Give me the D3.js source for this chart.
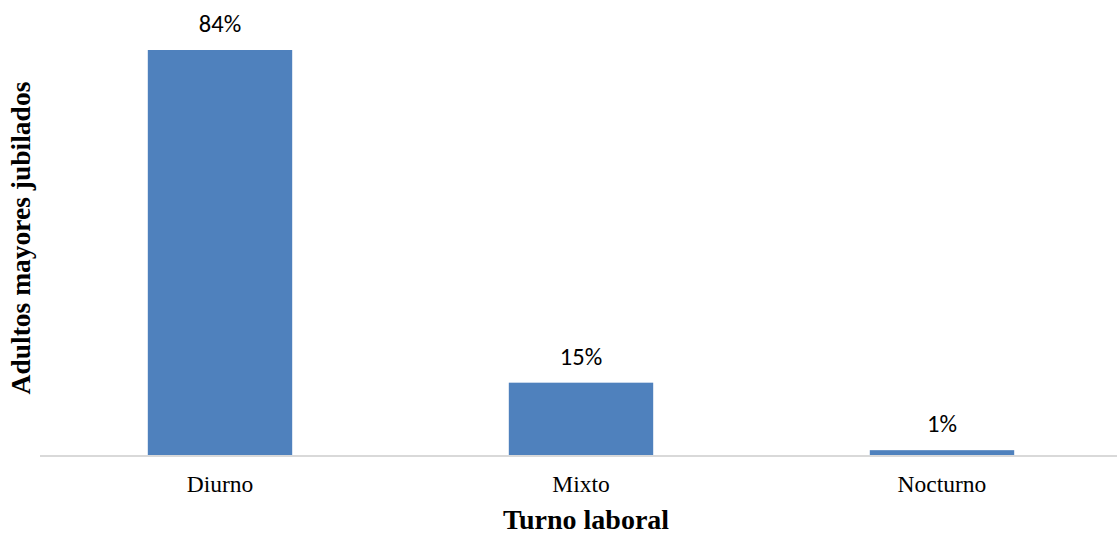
<!DOCTYPE html>
<html>
<head>
<meta charset="utf-8">
<script src="https://cdn.jsdelivr.net/npm/d3@7"></script>
<style>
  html, body { margin: 0; padding: 0; background: #fff; }
  svg { display: block; }
</style>
</head>
<body>
<svg id="chart" width="1117" height="535"></svg>
<script>
// Share of retired older adults by work shift
const categories = ["Diurno", "Mixto", "Nocturno"];
const values = [84, 15, 1];
const yTitle = "Adultos mayores jubilados";
const xTitle = "Turno laboral";

const svg = d3.select("#chart");
const baseline = 455;
const plotTop = 50;
const serif = "'Liberation Serif', 'Times New Roman', serif";

const x = d3.scaleBand()
  .domain(categories)
  .range([39.5, 1122.5])
  .paddingInner(0.6)
  .paddingOuter(0.3);

const y = d3.scaleLinear()
  .domain([0, 84])
  .range([baseline, plotTop]);

// bars
svg.selectAll("rect.bar")
  .data(categories)
  .join("rect")
  .attr("class", "bar")
  .attr("x", d => x(d))
  .attr("width", x.bandwidth())
  .attr("y", (d, i) => y(values[i]))
  .attr("height", (d, i) => baseline - y(values[i]))
  .attr("fill", "#4f81bd");

// category axis line
svg.append("line")
  .attr("x1", 40).attr("x2", 1117)
  .attr("y1", baseline + 1).attr("y2", baseline + 1)
  .attr("stroke", "#d9d9d9")
  .attr("stroke-width", 2);

// value labels
svg.selectAll("text.val")
  .data(categories)
  .join("text")
  .attr("class", "val")
  .attr("x", d => x(d) + x.bandwidth() / 2)
  .attr("y", (d, i) => y(values[i]) - 18)
  .attr("text-anchor", "middle")
  .attr("font-family", "Carlito, 'Open Sans', 'Liberation Sans', sans-serif")
  .attr("font-size", 24.5)
  .attr("fill", "#000")
  .text((d, i) => values[i] + "%");

// category labels
svg.selectAll("text.cat")
  .data(categories)
  .join("text")
  .attr("class", "cat")
  .attr("x", d => x(d) + x.bandwidth() / 2)
  .attr("y", 492)
  .attr("text-anchor", "middle")
  .attr("font-family", serif)
  .attr("font-size", 23.5)
  .attr("fill", "#000")
  .text(d => d);

// axis titles
svg.append("text")
  .attr("x", 586)
  .attr("y", 529)
  .attr("text-anchor", "middle")
  .attr("font-family", serif)
  .attr("font-weight", "bold")
  .attr("font-size", 28)
  .text(xTitle);

svg.append("text")
  .attr("transform", "translate(30,238) rotate(-90)")
  .attr("text-anchor", "middle")
  .attr("font-family", serif)
  .attr("font-weight", "bold")
  .attr("font-size", 27.5)
  .text(yTitle);
</script>
</body>
</html>
